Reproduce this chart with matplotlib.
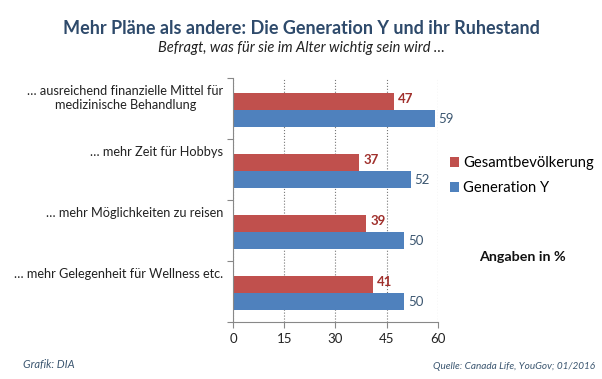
import numpy as np
import matplotlib.pyplot as plt

plt.rcParams['font.family'] = ['Lato', 'DejaVu Sans']

categories = ['… ausreichend finanzielle Mittel für\nmedizinische Behandlung',
              '… mehr Zeit für Hobbys',
              '… mehr Möglichkeiten zu reisen',
              '… mehr Gelegenheit für Wellness etc.']
gesamt = [47, 37, 39, 41]
gen_y = [59, 52, 50, 50]
xticks = [0, 15, 30, 45, 60]

red = '#C0504D'
blue = '#4F81BD'

fig = plt.figure(figsize=(6.02, 3.79), dpi=100)
ax = fig.add_axes([0.387, 0.1504, 0.3405, 0.644])

y = np.arange(len(categories))
h = 0.28
ax.barh(y - h / 2 + 0.02, gesamt, height=h, color=red, label='Gesamtbevölkerung')
ax.barh(y + h / 2 + 0.02, gen_y, height=h, color=blue, label='Generation Y')

for i in range(len(categories)):
    ax.text(gesamt[i] + 1.2, y[i] - h / 2 - 0.02, str(gesamt[i]), va='center', ha='left',
            fontsize=9.5, fontweight='bold', color='#A0302C')
    ax.text(gen_y[i] + 1.2, y[i] + h / 2 + 0.04, str(gen_y[i]), va='center', ha='left',
            fontsize=9.5, color='#3B5670')

# category labels sit near the top of each band
for i, cat in enumerate(categories):
    ax.text(-2.8, y[i] - 0.39, cat, ha='right', va='top', fontsize=9.2,
            color='#222222', multialignment='center', linespacing=1.25)

ax.set_xlim(0, 60)
ax.set_ylim(len(categories) - 0.5, -0.5)
ax.set_xticks(xticks)
ax.set_yticks(np.arange(-0.5, len(categories), 1))
ax.set_yticklabels([])
ax.tick_params(axis='y', length=4, color='#888888')
ax.tick_params(axis='x', length=4, color='#888888', labelsize=9.5, labelcolor='#222222', pad=4)

ax.grid(axis='x', linestyle=':', color='#777777', linewidth=0.8)
ax.set_axisbelow(True)
for s in ['top', 'right']:
    ax.spines[s].set_visible(False)
ax.spines['left'].set_color('#888888')
ax.spines['bottom'].set_color('#888888')

handles, labels = ax.get_legend_handles_labels()
fig.legend(handles, labels, loc='upper left', bbox_to_anchor=(0.748, 0.588), frameon=False,
           fontsize=10.6, handlelength=0.6, handleheight=0.6, handletextpad=0.25,
           labelspacing=0.75, borderpad=0, borderaxespad=0)

fig.text(0.867, 0.322, 'Angaben in %', ha='center', va='center', fontsize=10.3,
         fontweight='bold', color='#111111')

fig.text(0.5, 0.926, 'Mehr Pläne als andere: Die Generation Y und ihr Ruhestand', ha='center',
         va='center', fontsize=13, fontweight='bold', color='#2E4A6B')
fig.text(0.5, 0.874, 'Befragt, was für sie im Alter wichtig sein wird …', ha='center',
         va='center', fontsize=10.5, style='italic', color='#222222')

fig.text(0.038, 0.037, 'Grafik: DIA', ha='left', va='center', fontsize=8, style='italic',
         color='#3B5670')
fig.text(0.989, 0.032, 'Quelle: Canada Life, YouGov; 01/2016', ha='right', va='center',
         fontsize=7.2, style='italic', color='#3B5670')

fig.savefig('out.png', dpi=100)
